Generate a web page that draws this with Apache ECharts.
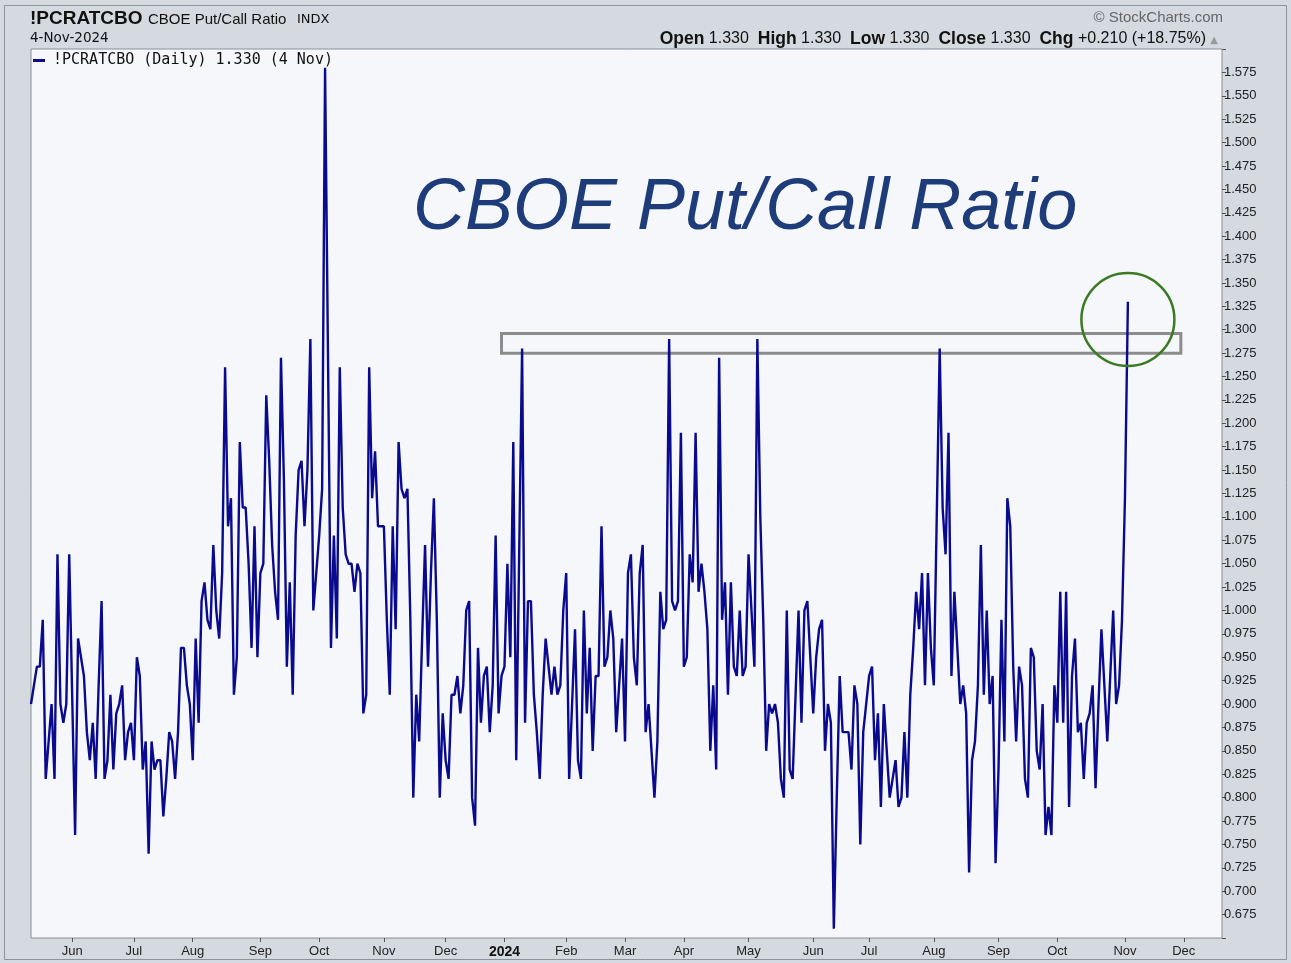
<!DOCTYPE html>
<html>
<head>
<meta charset="utf-8">
<script src="https://cdn.jsdelivr.net/npm/echarts@6/dist/echarts.min.js"></script>
<style>
html,body{margin:0;padding:0;background:#d5d9e0;}
#c{width:1291px;height:963px;}
</style>
</head>
<body>
<div id="c"></div>
<script>
// ---------- DATA ----------
const firstDay = '2023-05-11';
const lastAxisDay = '2024-12-19';
const marketHolidays = ['2023-05-29','2023-06-19','2023-07-04','2023-09-04','2023-11-23','2023-12-25',
  '2024-01-01','2024-01-15','2024-02-19','2024-03-29','2024-05-27','2024-06-19','2024-07-04','2024-09-02','2024-11-28'];
const monthNames = ['Jan','Feb','Mar','Apr','May','Jun','Jul','Aug','Sep','Oct','Nov','Dec'];

// daily CBOE put/call ratio, 11 May 2023 .. 29 Dec 2023
const ratio2023 = [
  0.90,0.92,0.94,0.94,0.99,0.82,0.86,0.90,0.82,1.06,
  0.90,0.88,0.90,1.06,0.91,0.76,0.97,0.95,0.93,0.87,
  0.84,0.88,0.82,0.92,1.01,0.82,0.84,0.91,0.83,0.89,
  0.90,0.92,0.84,0.87,0.88,0.84,0.95,0.93,0.83,0.86,
  0.74,0.86,0.83,0.84,0.84,0.78,0.82,0.87,0.86,0.82,
  0.87,0.96,0.96,
  0.92,0.90,0.84,0.97,0.88,1.01,1.03,0.99,0.98,1.07,
  1.00,0.97,1.04,1.26,1.09,1.12,0.91,0.95,1.18,1.11,
  1.11,1.05,0.96,1.09,0.95,1.04,1.05,1.23,1.16,1.07,
  1.02,0.99,1.27,1.14,0.94,1.03,0.91,1.08,1.15,1.16,
  1.09,1.15,1.29,1.00,1.04,1.08,1.13,1.58,
  1.27,0.96,1.08,0.97,1.26,1.11,1.06,1.05,1.05,1.02,
  1.05,1.04,0.89,0.91,1.26,1.12,1.17,1.09,1.09,1.09,
  0.99,0.91,1.09,0.98,1.18,1.13,1.12,1.13,0.99,0.80,
  0.91,0.86,0.97,1.07,0.94,1.04,1.12,0.99,0.80,0.89,
  0.84,0.82,0.91,0.91,0.93,0.89,0.92,1.00,1.01,0.80,
  0.77,0.96,
  0.88,0.93,0.94,0.87,0.92,1.08,0.89,0.93
];
// daily CBOE put/call ratio, 2 Jan 2024 .. 4 Nov 2024
const ratio2024 = [
  0.94,1.05,
  0.95,1.18,0.84,1.06,1.28,0.88,1.01,1.01,0.91,0.87,
  0.82,0.91,0.97,0.94,0.91,0.94,0.91,0.92,1.00,1.04,
  0.82,0.90,0.98,0.84,0.82,1.00,0.89,0.96,0.85,0.93,
  0.93,1.09,0.94,0.95,1.00,0.97,0.87,0.92,0.97,0.86,
  1.04,1.06,
  0.95,0.92,1.04,1.07,0.87,0.90,0.85,0.80,0.86,1.02,
  0.98,0.99,1.29,1.01,1.00,1.01,1.19,0.94,0.95,1.06,
  1.03,1.19,1.02,1.05,1.02,0.98,0.85,0.92,0.83,1.27,
  0.99,1.03,0.91,1.03,0.94,0.93,1.00,0.93,0.94,1.06,
  1.00,0.94,1.29,1.10,0.99,0.85,0.90,0.89,0.90,0.88,
  0.82,0.80,
  1.00,0.83,0.82,0.91,1.00,0.88,1.00,1.01,0.95,0.89,
  0.95,0.98,0.99,0.85,0.90,0.88,0.66,0.80,0.93,0.87,
  0.87,0.87,0.83,0.92,0.90,0.75,0.87,0.90,0.93,0.94,
  0.84,0.89,0.79,0.90,0.85,0.80,0.82,0.84,0.79,0.80,
  0.87,0.80,0.91,0.96,1.02,0.98,1.04,0.92,1.04,0.96,
  0.92,1.10,1.28,
  1.11,1.06,1.19,0.93,1.02,0.96,0.90,0.92,0.89,0.72,
  0.84,0.86,0.92,1.07,0.91,1.00,0.90,0.93,0.73,0.83,
  0.99,0.86,1.12,1.09,0.94,0.86,0.94,0.92,0.82,0.80,
  0.96,0.95,0.85,0.83,0.90,0.76,0.79,0.76,0.92,0.88,
  1.02,0.88,1.02,0.79,0.93,
  0.97,0.87,0.88,0.82,0.88,0.89,0.92,0.81,0.90,0.98,
  0.92,0.86,0.93,1.00,0.90,0.92,0.99,1.12,1.33
];

// annotations (data coordinates)
const boxStartDay = '2023-12-29';
const boxEndDay = '2024-11-29';
const boxTop = 1.296;
const boxBottom = 1.275;
const circleDay = '2024-11-04';
const circleCenterValue = 1.311;

const seriesName = '!PCRATCBO (Daily) 1.330 (4 Nov)';

// ---------- BUILD ----------
function tradingDays(from, to, skip) {
  const out = [];
  const d = new Date(from + 'T00:00:00Z');
  const end = new Date(to + 'T00:00:00Z');
  while (d <= end) {
    const wd = d.getUTCDay();
    const s = d.toISOString().slice(0, 10);
    if (wd !== 0 && wd !== 6 && skip.indexOf(s) < 0) out.push(s);
    d.setUTCDate(d.getUTCDate() + 1);
  }
  return out;
}
const dates = tradingDays(firstDay, lastAxisDay, marketHolidays);
const ratioValues = ratio2023.concat(ratio2024);
const monthStart = dates.map((s, i) => i > 0 && s.slice(0, 7) !== dates[i - 1].slice(0, 7));

const SANS = "'Liberation Sans', Arial, Helvetica, sans-serif";
const NARROW = "'Liberation Sans Narrow', 'Arial Narrow', 'Liberation Sans', Arial, sans-serif";

const option = {
  backgroundColor: '#d5d9e0',
  animation: false,
  grid: {
    left: 31, right: 69, top: 49, bottom: 25,
    show: true, backgroundColor: '#f5f7fb', borderColor: '#8a8f98', borderWidth: 1
  },
  legend: {
    show: true, left: 33, top: 53, padding: 0,
    icon: 'rect', itemWidth: 12, itemHeight: 3, itemGap: 4,
    data: [seriesName],
    textStyle: { fontFamily: "'DejaVu Sans Mono', monospace", fontSize: 15, color: '#111', padding: [0, 0, 0, 3] }
  },
  xAxis: {
    type: 'category',
    data: dates,
    boundaryGap: false,
    axisLine: { show: false },
    axisTick: { show: true, interval: (i) => monthStart[i], length: 4, lineStyle: { color: '#555' } },
    axisLabel: {
      interval: (i) => monthStart[i],
      margin: 7,
      color: '#222',
      fontSize: 13,
      fontFamily: NARROW,
      formatter: function (v) {
        const m = parseInt(v.slice(5, 7), 10) - 1;
        if (m === 0) return '{y|' + v.slice(0, 4) + '}';
        return monthNames[m];
      },
      rich: { y: { fontWeight: 'bold', fontSize: 14, color: '#111', fontFamily: NARROW } }
    },
    splitLine: { show: false }
  },
  yAxis: {
    type: 'value',
    position: 'right',
    min: 0.65, max: 1.6, interval: 0.025,
    axisLine: { show: false },
    axisTick: { show: true, length: 4, lineStyle: { color: '#555' } },
    axisLabel: {
      margin: 2, fontSize: 13, color: '#222', fontFamily: SANS,
      formatter: (v) => (v < 0.66 || v > 1.59) ? '' : v.toFixed(3)
    },
    splitLine: { show: false }
  },
  series: [{
    name: seriesName,
    type: 'line',
    data: ratioValues,
    symbol: 'none',
    showSymbol: false,
    lineStyle: { color: '#0a0a8e', width: 2.4 },
    itemStyle: { color: '#0a0a8e' },
    markArea: {
      silent: true,
      label: { show: false },
      itemStyle: { color: 'rgba(0,0,0,0)', borderColor: '#8c8c8c', borderWidth: 3 },
      data: [[{ xAxis: boxStartDay, yAxis: boxTop }, { xAxis: boxEndDay, yAxis: boxBottom }]]
    }
  }]
};

const chart = echarts.init(document.getElementById('c'), null, { renderer: 'canvas' });
chart.setOption(option);

const cpix = chart.convertToPixel({ xAxisIndex: 0, yAxisIndex: 0 }, [circleDay, circleCenterValue]);

function txt(x, y, text, font, fill, align, extra) {
  return Object.assign({
    type: 'text', x: x, y: y, z: 50,
    style: { text: text, font: font, fill: fill, textAlign: align || 'left', align: align || 'left',
             textVerticalAlign: 'middle', verticalAlign: 'middle' }
  }, extra || {});
}

chart.setOption({
  graphic: {
    elements: [
      { type: 'rect', z: 40, shape: { x: 4.5, y: 5.5, width: 1282, height: 954 },
        style: { fill: 'none', stroke: '#8d929b', lineWidth: 1 } },
      txt(30, 19, '!PCRATCBO', "bold 19px " + SANS, '#111'),
      txt(148, 20, 'CBOE Put/Call Ratio', "15px " + SANS, '#111'),
      txt(297, 20, 'INDX', "13px 'DejaVu Sans', sans-serif", '#111'),
      txt(30, 38, '4-Nov-2024', "13.5px 'DejaVu Sans', sans-serif", '#111'),
      txt(1223, 18, '\u00A9 StockCharts.com', "15px " + SANS, '#666', 'right'),
      {
        type: 'text', x: 1206, y: 39, z: 50,
        style: {
          text: '{b|Open} {n|1.330}  {b|High} {n|1.330}  {b|Low} {n|1.330}  {b|Close} {n|1.330}  {b|Chg} {n|+0.210 (+18.75%)}',
          font: "16px " + SANS,
          fill: '#111',
          textAlign: 'right', align: 'right', textVerticalAlign: 'middle', verticalAlign: 'middle',
          rich: {
            b: { fontFamily: SANS, fontWeight: 'bold', fontSize: 17.5, fill: '#111', color: '#111' },
            n: { fontFamily: SANS, fontSize: 16, fill: '#111', color: '#111' }
          }
        }
      },
      txt(1214, 40, '\u25B2', "10px 'DejaVu Sans', sans-serif", '#9a9a9a', 'center'),
      txt(413, 209, 'CBOE Put/Call Ratio', "italic 72px " + SANS, '#1e3c79'),
      { type: 'circle', z: 60, shape: { cx: cpix[0], cy: cpix[1], r: 46.5 },
        style: { fill: 'none', stroke: '#3b7a23', lineWidth: 2.5 } }
    ]
  }
});
</script>
</body>
</html>
